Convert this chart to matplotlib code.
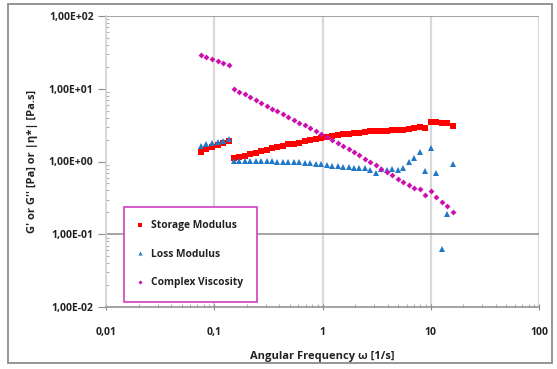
import matplotlib
matplotlib.use("Agg")
import matplotlib.pyplot as plt
from matplotlib.patches import Rectangle
from matplotlib.ticker import LogLocator, NullFormatter, FixedLocator, FixedFormatter

# ---- data ----
freq_low = [0.0753, 0.0847, 0.0953, 0.1072, 0.1205, 0.1355]
freq_high = [0.151, 0.170, 0.191, 0.214, 0.241, 0.270, 0.304, 0.341, 0.383, 0.430,
             0.483, 0.543, 0.610, 0.685, 0.770, 0.865, 0.972, 1.092, 1.227, 1.378,
             1.549, 1.740, 1.954, 2.196, 2.467, 2.772, 3.114, 3.499, 3.931, 4.416,
             4.962, 5.574, 6.262, 7.036, 7.904, 8.880, 9.977, 11.21, 12.59, 14.15, 15.89]

storage_low = [1.351, 1.471, 1.567, 1.670, 1.778, 1.931]
storage_high = [1.117, 1.153, 1.202, 1.268, 1.321, 1.394, 1.453, 1.518, 1.582, 1.633,
                1.722, 1.757, 1.813, 1.931, 1.994, 2.057, 2.123, 2.172, 2.263, 2.313,
                2.365, 2.409, 2.465, 2.488, 2.568, 2.600, 2.625, 2.625, 2.649, 2.685,
                2.685, 2.736, 2.771, 2.860, 3.008, 2.916, 3.524, 3.491, 3.412, 3.412, 3.076]

loss_low = [1.649, 1.757, 1.795, 1.854, 1.914, 2.018]
loss_high = [1.026, 1.026, 1.026, 1.016, 1.016, 1.016, 1.016, 1.006, 0.994, 0.994,
             0.984, 0.984, 0.975, 0.964, 0.964, 0.916, 0.916, 0.904, 0.876, 0.876,
             0.840, 0.832, 0.807, 0.807, 0.807, 0.764, 0.702, 0.782, 0.764, 0.796,
             0.764, 0.807, 0.994, 1.107, 1.337, 0.748, 1.548, 0.689, 0.0621, 0.188, 0.916]

visc_low = [29.1, 27.1, 25.4, 23.8, 22.6, 21.2]
visc_high = [10.02, 9.02, 8.39, 7.70, 6.94, 6.31, 5.79, 5.32, 4.90, 4.50,
             4.09, 3.72, 3.41, 3.18, 2.92, 2.63, 2.39, 2.19, 1.99, 1.81,
             1.63, 1.47, 1.34, 1.22, 1.09, 0.984, 0.887, 0.796, 0.718, 0.652,
             0.581, 0.528, 0.480, 0.436, 0.415, 0.343, 0.394, 0.322, 0.277, 0.244, 0.204]

x_ticks = [0.01, 0.1, 1, 10, 100]
x_labels = ["0,01", "0,1", "1", "10", "100"]
y_ticks = [0.01, 0.1, 1, 10, 100]
y_labels = ["1,00E-02", "1,00E-01", "1,00E+00", "1,00E+01", "1,00E+02"]

series_names = ["Storage Modulus", "Loss Modulus", "Complex Viscosity"]

# ---- style ----
plt.rcParams['font.family'] = ['Open Sans', 'DejaVu Sans']
plt.rcParams['font.weight'] = 'bold'

W, H = 557, 369
fig = plt.figure(figsize=(W / 100, H / 100), dpi=100)
fig.patch.set_facecolor('white')

# outer frame
fig.patches.append(Rectangle((8 / W, 1 - 363 / H), (552 - 8) / W, (363 - 4) / H,
                             transform=fig.transFigure, fill=False,
                             edgecolor='#8c8c8c', linewidth=1.3, zorder=0))

ax = fig.add_axes([106 / W, 1 - 307 / H, (539 - 106) / W, (307 - 16) / H])
ax.set_xscale('log')
ax.set_yscale('log')
ax.set_xlim(0.01, 100)
ax.set_ylim(0.01, 100)

# grid lines
for xv in x_ticks[1:]:
    ax.axvline(xv, color='#d9d9d9', linewidth=1.6, zorder=0)
for yv in [0.1, 100]:
    ax.axhline(yv, color='#8c8c8c', linewidth=1.1, zorder=0.5)

for s in ['top', 'right']:
    ax.spines[s].set_visible(False)
ax.spines['left'].set_color('#d0d0d0')
ax.spines['left'].set_linewidth(1.2)
ax.spines['bottom'].set_color('#8c8c8c')
ax.spines['bottom'].set_linewidth(1.1)

ax.xaxis.set_major_locator(FixedLocator(x_ticks))
ax.xaxis.set_major_formatter(FixedFormatter(x_labels))
ax.yaxis.set_major_locator(FixedLocator(y_ticks))
ax.yaxis.set_major_formatter(FixedFormatter(y_labels))
ax.xaxis.set_minor_locator(LogLocator(base=10, subs=range(2, 10)))
ax.yaxis.set_minor_locator(LogLocator(base=10, subs=range(2, 10)))
ax.xaxis.set_minor_formatter(NullFormatter())
ax.yaxis.set_minor_formatter(NullFormatter())
ax.tick_params(axis='x', which='major', length=5, color='#8c8c8c', direction='inout',
               labelsize=7.5, pad=12, labelcolor='#222222')
ax.tick_params(axis='y', which='major', length=6, color='#8c8c8c', direction='out',
               labelsize=7.5, pad=3, labelcolor='#222222')
ax.tick_params(which='minor', length=2.5, color='#b0b0b0', direction='in', width=0.8)

ms_kw = dict(linestyle='none', markeredgewidth=0)
ax.plot(freq_low, storage_low, marker='s', color='#ff0000', markersize=4.4, zorder=3, **ms_kw)
ax.plot(freq_high, storage_high, marker='s', color='#ff0000', markersize=4.4, zorder=3,
        label=series_names[0], **ms_kw)
ax.plot(freq_low, loss_low, marker='^', color='#1f78c8', markersize=4.2, zorder=3, **ms_kw)
ax.plot(freq_high, loss_high, marker='^', color='#1f78c8', markersize=4.2, zorder=3,
        label=series_names[1], **ms_kw)
ax.plot(freq_low, visc_low, marker='D', color='#cc10b0', markersize=3.0, zorder=3, **ms_kw)
ax.plot(freq_high, visc_high, marker='D', color='#cc10b0', markersize=3.0, zorder=3,
        label=series_names[2], **ms_kw)

ax.set_xlabel("Angular Frequency ω [1/s]", fontsize=8, fontweight='bold',
              color='#222222', labelpad=9)
ax.set_ylabel("G' or G'' [Pa] or |η*| [Pa.s]", fontsize=8, fontweight='bold',
              color='#222222', labelpad=8)

leg = ax.legend(loc='upper left', bbox_to_anchor=((123.5 - 106) / 433, (307 - 206.5) / 291),
                frameon=True, fancybox=False, fontsize=7.4, markerscale=0.7,
                handlelength=0.6, handletextpad=0.7, labelspacing=1.7,
                borderpad=1.35, borderaxespad=0)
frame = leg.get_frame()
frame.set_edgecolor('#d040c0')
frame.set_linewidth(1.2)
frame.set_facecolor('white')
frame.set_alpha(1)
for t in leg.get_texts():
    t.set_fontweight('bold')
    t.set_color('#222222')
leg.set_zorder(5)

fig.savefig("out.png", dpi=100, facecolor='white')
